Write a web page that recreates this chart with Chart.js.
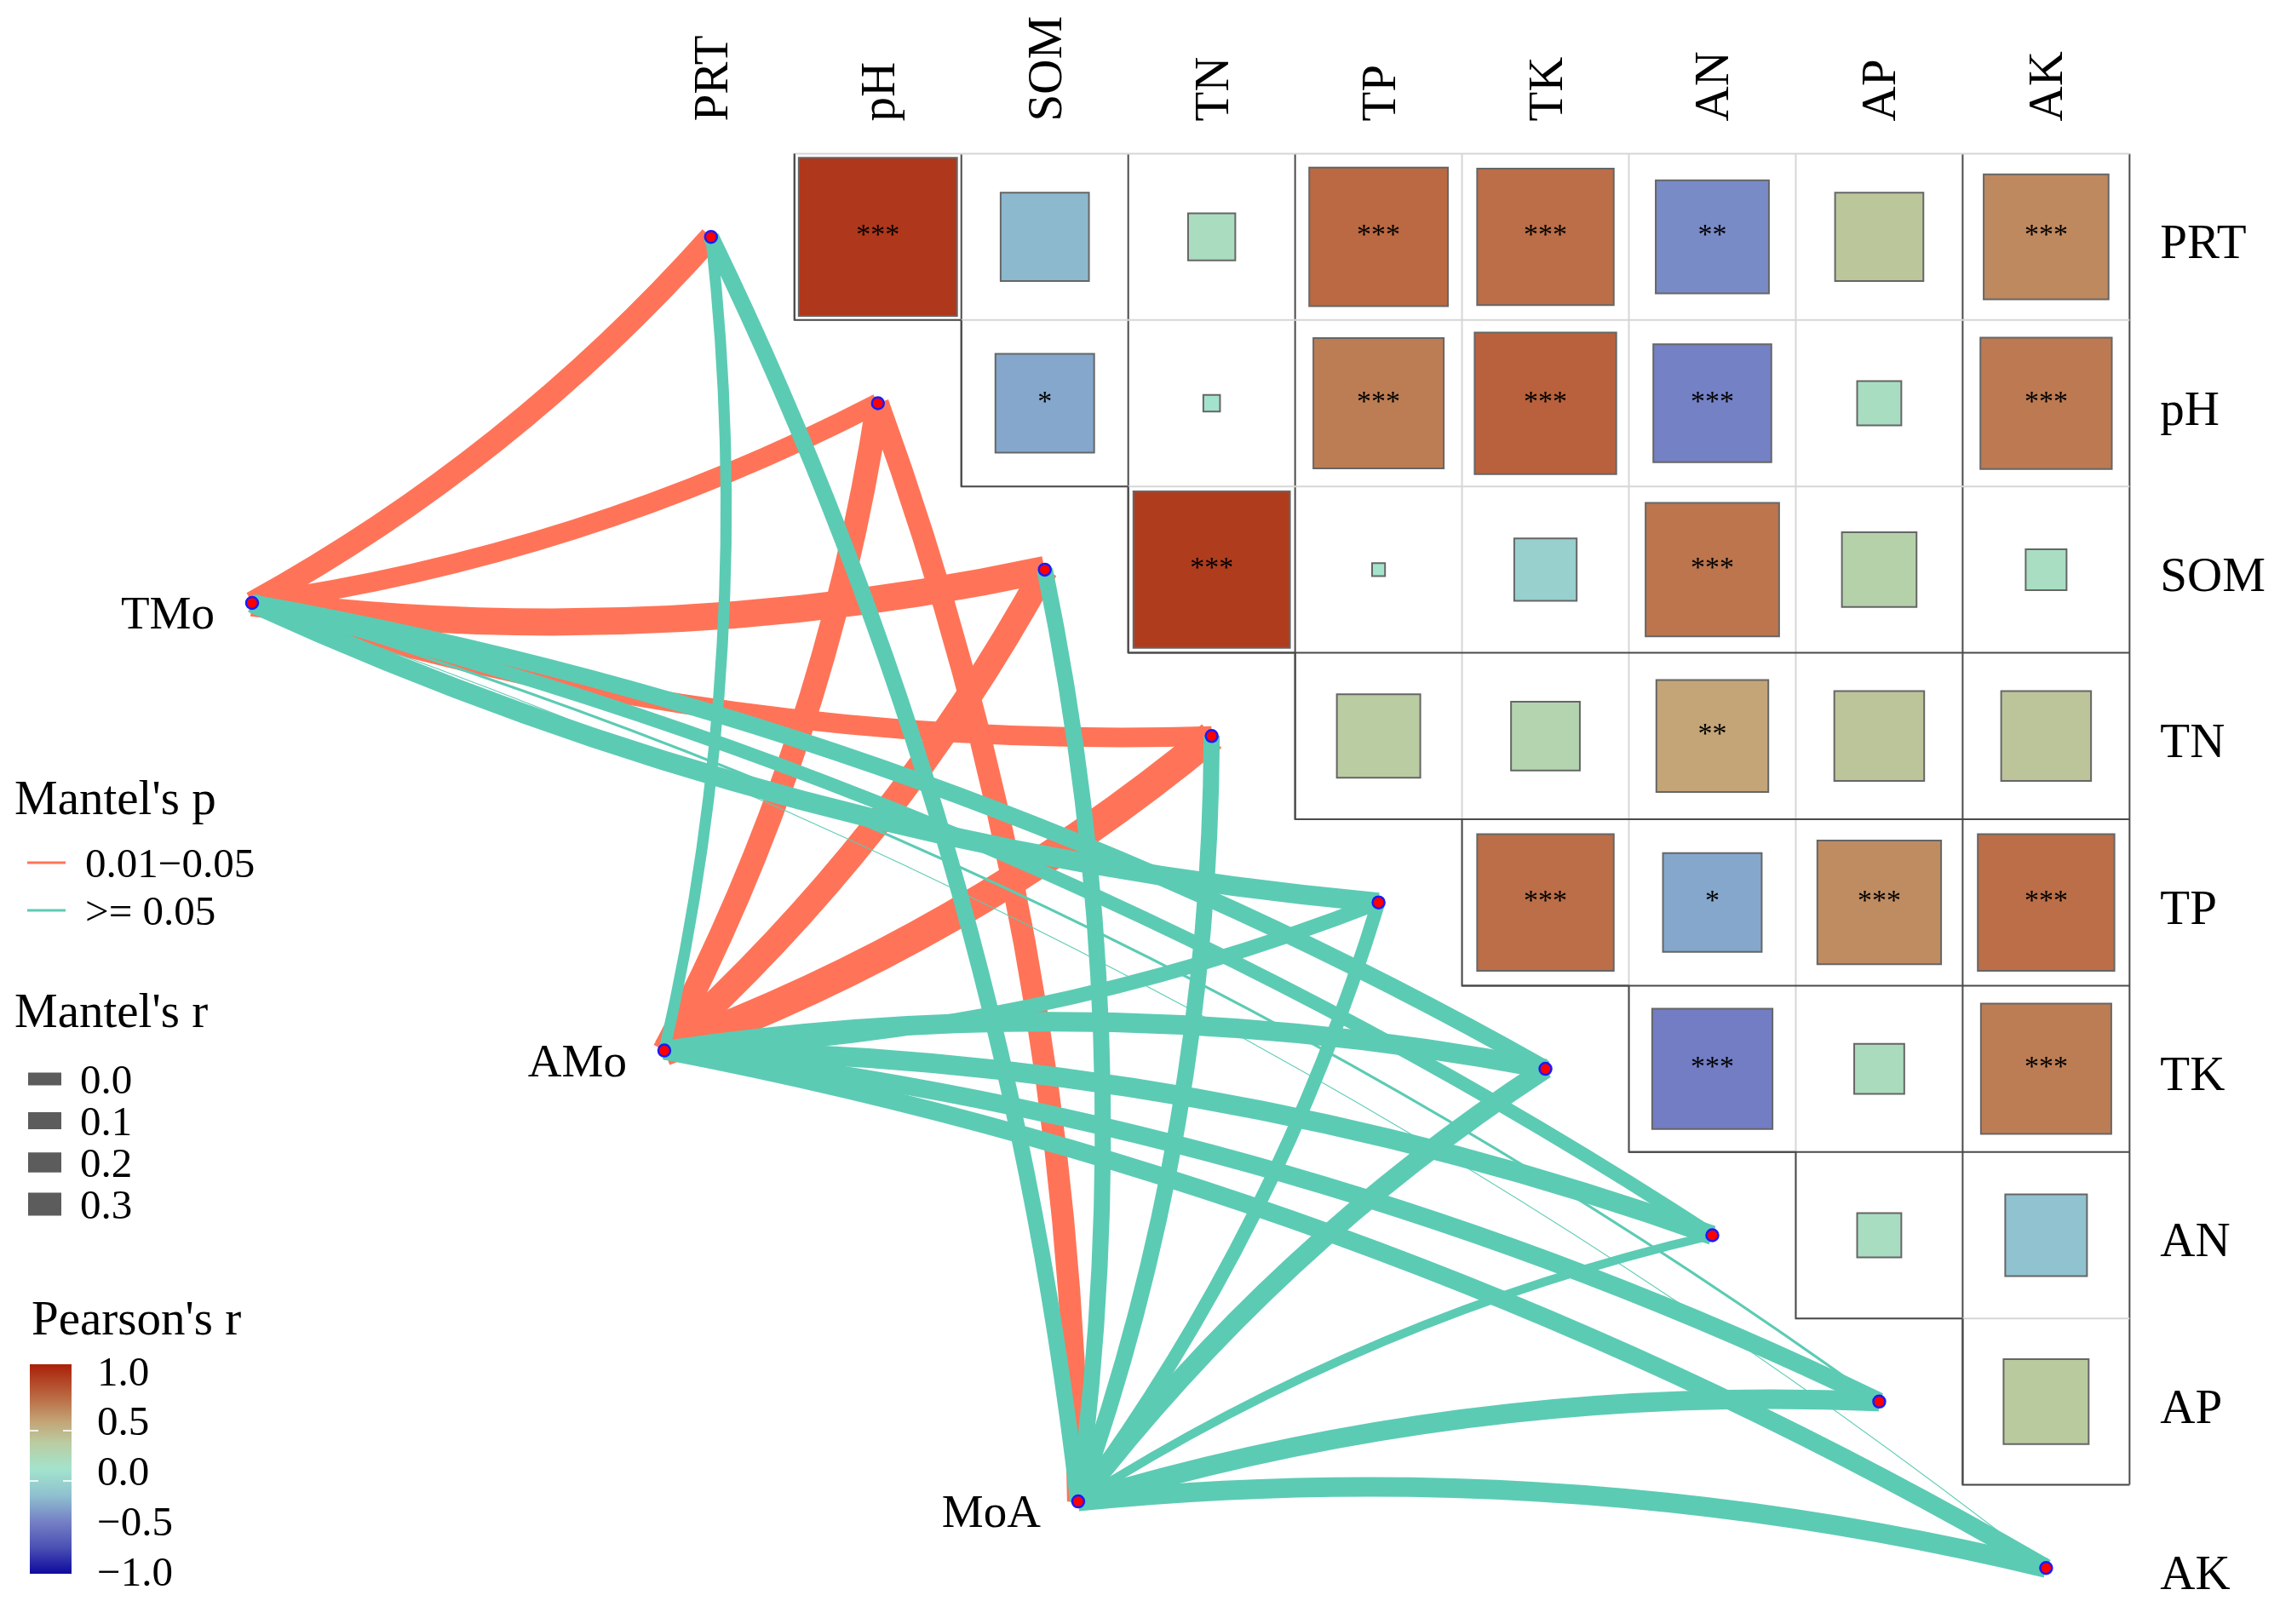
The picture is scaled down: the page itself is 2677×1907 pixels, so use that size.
<!DOCTYPE html>
<html>
<head>
<meta charset="utf-8">
<title>Mantel test with soil properties</title>
<script src="https://cdn.jsdelivr.net/npm/chart.js@4.4.1/dist/chart.umd.min.js"></script>
<style>
  html, body { margin: 0; padding: 0; background: #fff; }
  canvas { display: block; }
</style>
</head>
<body>
<canvas id="chart" width="2677" height="1907"></canvas>
<script>
// soil variables: rows / columns of the triangle, and the link targets
const vars = ["PRT", "pH", "SOM", "TN", "TP", "TK", "AN", "AP", "AK"];

// Pearson's r, upper triangle row by row (row i holds columns i+1 .. 8)
const pearsonR = [
  [0.90, -0.28, 0.08, 0.69, 0.67, -0.46, 0.28, 0.56],
  [-0.35, 0.01, 0.61, 0.72, -0.50, 0.07, 0.62],
  [0.88, 0.006, -0.14, 0.64, 0.20, 0.06],
  [0.25, 0.17, 0.45, 0.29, 0.29],
  [0.67, -0.35, 0.55, 0.67],
  [-0.52, 0.09, 0.61],
  [0.07, -0.24],
  [0.26]
];
const signif = [
  ["***", "", "", "***", "***", "**", "", "***"],
  ["*", "", "***", "***", "***", "", "***"],
  ["***", "", "", "***", "", ""],
  ["", "", "**", "", ""],
  ["***", "*", "***", "***"],
  ["***", "", "***"],
  ["", ""],
  [""]
];

// the three sources of the Mantel links, placed in grid units
const envNames = ["TMo", "AMo", "MoA"];
const envX = [-2.75, -0.28, 2.2];
const envY = [2.2, 4.89, 7.6];

// Mantel's r per source, in the order of vars
const mantelR = [
  [0.30, 0.18, 0.48, 0.18, 0.18, 0.10, 0.02, -0.118, -0.12],
  [-0.03, 0.33, 0.44, 0.65, 0.04, 0.18, 0.18, 0.13, 0.13],
  [0.08, 0.27, 0.08, 0.08, 0.02, 0.18, -0.07, 0.18, 0.18]
];
// Mantel's p class: 0 = 0.01-0.05, 1 = >= 0.05
const mantelP = [
  [0, 0, 0, 0, 1, 1, 1, 1, 1],
  [1, 0, 0, 0, 1, 1, 1, 1, 1],
  [1, 0, 1, 1, 1, 1, 1, 1, 1]
];
const pLabels = ["0.01\u22120.05", ">= 0.05"];
const sizeBreaks = [0.0, 0.1, 0.2, 0.3];
const colorBreaks = [1.0, 0.5, 0.0, -0.5, -1.0];

// ---- styles ----
const FONT = "'Liberation Serif', 'Times New Roman', serif";
const pColors = ["#ff7458", "#5ccbb4"];
const colorStops = [
  [-1, "#0d0a9e"], [-0.75, "#4b50b4"], [-0.5, "#7581c5"], [-0.25, "#8fc1cf"],
  [0, "#a3e4cd"], [0.25, "#bacca1"], [0.45, "#c3a577"], [0.7, "#ba6640"], [1, "#aa2008"]
];
const CURV = 0.085;

function hexRgb(h) {
  return [parseInt(h.slice(1, 3), 16), parseInt(h.slice(3, 5), 16), parseInt(h.slice(5, 7), 16)];
}
function pearsonColor(r) {
  for (let i = 1; i < colorStops.length; i++) {
    const [r0, c0] = colorStops[i - 1], [r1, c1] = colorStops[i];
    if (r <= r1) {
      const t = (r - r0) / (r1 - r0), a = hexRgb(c0), b = hexRgb(c1);
      return "rgb(" + a.map((v, k) => Math.round(v + (b[k] - v) * t)).join(",") + ")";
    }
  }
  return colorStops[colorStops.length - 1][1];
}
function mantelWidth(r) {
  return 1.25 + 39.7 * Math.sqrt(Math.max(r + 0.12, 0));
}

const squares = [];
pearsonR.forEach((row, i) => row.forEach((v, n) => {
  squares.push({ x: i + 1 + n, y: i, v: v, s: signif[i][n] });
}));

function unitPx(chart) {
  const xs = chart.scales.x;
  return Math.abs(xs.getPixelForValue(1) - xs.getPixelForValue(0));
}

const decor = {
  id: "decor",
  beforeDraw(chart) {
    const ctx = chart.ctx;
    ctx.save();
    ctx.fillStyle = "#fff";
    ctx.fillRect(0, 0, chart.width, chart.height);
    ctx.restore();
  },
  beforeDatasetsDraw(chart) {
    const ctx = chart.ctx;
    const X = v => chart.scales.x.getPixelForValue(v);
    const Y = v => chart.scales.y.getPixelForValue(v);
    const n = vars.length;
    ctx.save();
    // grid of the upper triangle
    const vDark = [1, 1, 1, 1, 0, 0, 0, 1, 1];
    const hDark = [0, 0, 0, 1, 1, 1, 1, 0, 0];
    ctx.lineWidth = 2;
    for (let k = 0; k < n; k++) {
      ctx.strokeStyle = vDark[k] ? "#4a4a4a" : "#d6d6d6";
      ctx.beginPath();
      ctx.moveTo(X(k + 0.5), Y(-0.5));
      ctx.lineTo(X(k + 0.5), Y(Math.min(k, n - 2) + 0.5));
      ctx.stroke();
    }
    for (let i = -1; i < n - 1; i++) {
      ctx.strokeStyle = hDark[i + 1] ? "#4a4a4a" : "#d6d6d6";
      ctx.beginPath();
      ctx.moveTo(X(Math.max(i, 0) + 0.5), Y(i + 0.5));
      ctx.lineTo(X(n - 0.5), Y(i + 0.5));
      ctx.stroke();
    }
    // staircase border
    ctx.strokeStyle = "#4a4a4a";
    ctx.beginPath();
    for (let i = 0; i < n - 1; i++) {
      ctx.moveTo(X(i + 0.5), Y(i - 0.5));
      ctx.lineTo(X(i + 0.5), Y(i + 0.5));
      ctx.lineTo(X(i + 1.5), Y(i + 0.5));
    }
    ctx.stroke();

    // Mantel links: significant first, the rest drawn over them
    ctx.lineCap = "butt";
    for (const cls of [0, 1]) {
      envNames.forEach((_, k) => {
        vars.forEach((_, j) => {
          if (mantelP[k][j] !== cls) return;
          const x0 = X(envX[k]), y0 = Y(envY[k]), x1 = X(j), y1 = Y(j);
          const dx = x1 - x0, dy = y1 - y0, L = Math.hypot(dx, dy);
          const side = j <= 4 ? 1 : -1;
          const off = CURV * L * side;
          const cx = (x0 + x1) / 2 - dy / L * off;
          const cy = (y0 + y1) / 2 + dx / L * off;
          ctx.strokeStyle = pColors[cls];
          ctx.lineWidth = mantelWidth(mantelR[k][j]);
          ctx.beginPath();
          ctx.moveTo(x0, y0);
          ctx.quadraticCurveTo(cx, cy, x1, y1);
          ctx.stroke();
        });
      });
    }
    ctx.restore();
  },
  afterDatasetsDraw(chart) {
    const ctx = chart.ctx;
    const X = v => chart.scales.x.getPixelForValue(v);
    const Y = v => chart.scales.y.getPixelForValue(v);
    ctx.save();
    ctx.fillStyle = "#000";
    // stars
    ctx.font = "34px " + FONT;
    ctx.textAlign = "center";
    ctx.textBaseline = "alphabetic";
    squares.forEach(p => { if (p.s) ctx.fillText(p.s, X(p.x), Y(p.y) + 8); });

    // column labels (rotated) and row labels
    ctx.font = "57px " + FONT;
    vars.forEach((name, j) => {
      ctx.save();
      ctx.translate(X(j) + 4, Y(-0.5) - 38);
      ctx.rotate(-Math.PI / 2);
      ctx.textAlign = "left";
      ctx.textBaseline = "middle";
      ctx.fillText(name, 0, 0);
      ctx.restore();
      ctx.textAlign = "left";
      ctx.textBaseline = "middle";
      ctx.fillText(name, X(vars.length - 0.5) + 36, Y(j) + 10);
    });

    // source labels
    ctx.font = "55px " + FONT;
    ctx.textAlign = "right";
    ctx.textBaseline = "alphabetic";
    envNames.forEach((name, k) => ctx.fillText(name, X(envX[k]) - 44, Y(envY[k]) + 30));

    // legends
    ctx.textAlign = "left";
    ctx.font = "57px " + FONT;
    ctx.fillText("Mantel's p", 17, 956);
    ctx.fillText("Mantel's r", 17, 1206);
    ctx.fillText("Pearson's r", 37, 1567);
    ctx.font = "49px " + FONT;
    pLabels.forEach((lab, c) => {
      const y = 1013 + c * 56;
      ctx.strokeStyle = pColors[c];
      ctx.lineWidth = 3;
      ctx.beginPath();
      ctx.moveTo(32, y);
      ctx.lineTo(77, y);
      ctx.stroke();
      ctx.fillText(lab, 100, y + 17);
    });
    sizeBreaks.forEach((v, c) => {
      const y = 1267 + c * 49;
      ctx.strokeStyle = "#5c5c5c";
      ctx.lineWidth = mantelWidth(v);
      ctx.beginPath();
      ctx.moveTo(33, y);
      ctx.lineTo(72, y);
      ctx.stroke();
      ctx.fillText(v.toFixed(1), 94, y + 17);
    });
    // colour bar
    const top = 1602, bot = 1848;
    const g = ctx.createLinearGradient(0, top, 0, bot);
    colorStops.forEach(([r]) => g.addColorStop((1 - r) / 2, pearsonColor(r)));
    ctx.fillStyle = g;
    ctx.fillRect(35, top, 49, bot - top);
    ctx.strokeStyle = "rgba(255,255,255,0.8)";
    ctx.lineWidth = 2;
    [0.5, 0.0].forEach(r => {
      const y = 1739 - r * 118;
      ctx.beginPath();
      ctx.moveTo(35, y); ctx.lineTo(45, y);
      ctx.moveTo(74, y); ctx.lineTo(84, y);
      ctx.stroke();
    });
    ctx.fillStyle = "#000";
    colorBreaks.forEach(r => {
      const lab = (r < 0 ? "\u2212" : "") + Math.abs(r).toFixed(1);
      ctx.fillText(lab, 114, 1727 - r * 117.5 + 17);
    });
    ctx.restore();
  }
};

const nodeStyle = {
  pointRadius: 7,
  pointBackgroundColor: "#ff0000",
  pointBorderColor: "#1a1aff",
  pointBorderWidth: 2.5
};

new Chart(document.getElementById("chart"), {
  type: "scatter",
  data: {
    datasets: [
      Object.assign({ label: "sources", data: envX.map((x, k) => ({ x: x, y: envY[k] })) }, nodeStyle),
      Object.assign({ label: "variables", data: vars.map((_, i) => ({ x: i, y: i })) }, nodeStyle),
      {
        label: "Pearson's r",
        data: squares,
        pointStyle: "rect",
        pointRadius: c => Math.sqrt(Math.abs(c.raw.v)) * unitPx(c.chart) / Math.SQRT2,
        pointBackgroundColor: c => pearsonColor(c.raw.v),
        pointBorderColor: "#666666",
        pointBorderWidth: 2
      }
    ]
  },
  options: {
    responsive: false,
    animation: false,
    devicePixelRatio: 1,
    events: [],
    layout: { padding: 0 },
    plugins: { legend: { display: false }, tooltip: { enabled: false } },
    scales: {
      x: { type: "linear", min: -4.212, max: 9.353, display: false },
      y: { type: "linear", min: -1.375, max: 8.288, reverse: true, display: false }
    }
  },
  plugins: [decor]
});
</script>
</body>
</html>
